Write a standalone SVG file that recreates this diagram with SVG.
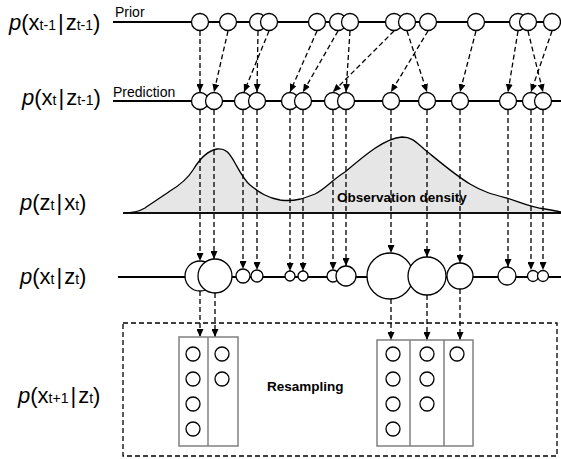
<svg xmlns="http://www.w3.org/2000/svg" width="561" height="459" viewBox="0 0 561 459">
<style>
.lbl{font-family:"Liberation Sans",Arial,sans-serif;font-size:22px;fill:#000}
.sub{font-size:14px}
.it{font-style:italic}
.small{font-family:"Liberation Sans",Arial,sans-serif;font-size:14px;fill:#000}
.bold{font-family:"Liberation Sans",Arial,sans-serif;font-size:13.5px;font-weight:bold;fill:#000}
.axis{stroke:#000;stroke-width:2;fill:none}
.pt{fill:#fff;stroke:#000;stroke-width:1.3}
.dash{stroke:#000;stroke-width:1.3;stroke-dasharray:5 3;fill:none}
.arr{marker-end:url(#ah)}
.box{fill:#fff;stroke:#808080;stroke-width:1.5}
</style>
<defs>
<marker id="ah" viewBox="0 0 8 7" refX="8" refY="3.5" markerWidth="8" markerHeight="7" markerUnits="userSpaceOnUse" orient="auto">
<path d="M0,0 L8,3.5 L0,7 z" fill="#000"/>
</marker>
</defs>

<g id="labels">
<text class="lbl" x="9" y="30"><tspan class="it">p</tspan>(x<tspan class="sub">t-1</tspan><tspan dx="2">|</tspan><tspan dx="2">z</tspan><tspan class="sub">t-1</tspan>)</text>
<text class="lbl" x="22" y="105"><tspan class="it">p</tspan>(x<tspan class="sub">t</tspan><tspan dx="2">|</tspan><tspan dx="2">z</tspan><tspan class="sub">t-1</tspan>)</text>
<text class="lbl" x="20" y="210"><tspan class="it">p</tspan>(z<tspan class="sub">t</tspan><tspan dx="2">|</tspan><tspan dx="2">x</tspan><tspan class="sub">t</tspan>)</text>
<text class="lbl" x="20" y="284"><tspan class="it">p</tspan>(x<tspan class="sub">t</tspan><tspan dx="2">|</tspan><tspan dx="2">z</tspan><tspan class="sub">t</tspan>)</text>
<text class="lbl" x="18" y="403"><tspan class="it">p</tspan>(x<tspan class="sub">t+1</tspan><tspan dx="2">|</tspan><tspan dx="2">z</tspan><tspan class="sub">t</tspan>)</text>
<text class="small" x="115" y="17">Prior</text>
<text class="small" x="113" y="97">Prediction</text>
</g>

<g id="density">
<path d="M123,213 C135,213 140,211 145,208 C152,203 160,198 170,191 C180,185 188,178 193,170 C199,160 206,151 217,149 C225,148 229,152 235,163 C240,172 244,180 250,185 C260,193 268,198 280,200 C295,202 305,198 315,194 C325,189 332,180 345,172 C365,155 385,138 402,137 C412,137 416,142 424,149 C440,162 455,175 470,184 C485,193 495,195 507,198 C520,202 530,207 545,209 C552,210 556,211 561,212 L561,213 Z" fill="#e6e6e6" stroke="#000" stroke-width="1.3"/>
<line x1="123" y1="213" x2="561" y2="213" stroke="#000" stroke-width="1.5"/>
<text class="bold" x="337" y="202">Observation density</text>
</g>

<g id="resample-frame">
<rect x="123" y="323" width="434" height="133" class="dash" stroke-dasharray="6 4"/>
<text class="bold" x="267" y="391">Resampling</text>
</g>

<g id="connectors">
<line class="dash arr" x1="200" y1="31" x2="200" y2="92"/>
<line class="dash arr" x1="228" y1="31" x2="214" y2="92"/>
<line class="dash arr" x1="258" y1="31" x2="257" y2="92"/>
<line class="dash arr" x1="269" y1="31" x2="244" y2="92"/>
<line class="dash arr" x1="317" y1="31" x2="290" y2="92"/>
<line class="dash arr" x1="338" y1="31" x2="303" y2="92"/>
<line class="dash arr" x1="350" y1="31" x2="346" y2="92"/>
<line class="dash arr" x1="394" y1="31" x2="333" y2="92"/>
<line class="dash arr" x1="407" y1="31" x2="427" y2="92"/>
<line class="dash arr" x1="428" y1="31" x2="391" y2="92"/>
<line class="dash arr" x1="476" y1="31" x2="460" y2="92"/>
<line class="dash arr" x1="518" y1="31" x2="508" y2="92"/>
<line class="dash arr" x1="528" y1="31" x2="543" y2="92"/>
<line class="dash arr" x1="552" y1="31" x2="531" y2="92"/>

<line class="dash arr" x1="200" y1="110" x2="200" y2="261"/>
<line class="dash arr" x1="214" y1="110" x2="214" y2="259"/>
<line class="dash arr" x1="243" y1="110" x2="243" y2="269"/>
<line class="dash arr" x1="257" y1="110" x2="257" y2="270"/>
<line class="dash arr" x1="290" y1="110" x2="290" y2="271"/>
<line class="dash arr" x1="303" y1="110" x2="303" y2="271"/>
<line class="dash arr" x1="333" y1="110" x2="333" y2="270"/>
<line class="dash arr" x1="346" y1="110" x2="346" y2="266"/>
<line class="dash arr" x1="391" y1="110" x2="391" y2="253"/>
<line class="dash arr" x1="427" y1="110" x2="427" y2="257"/>
<line class="dash arr" x1="460" y1="110" x2="460" y2="263"/>
<line class="dash arr" x1="508" y1="110" x2="508" y2="267"/>
<line class="dash arr" x1="531" y1="110" x2="531" y2="270"/>
<line class="dash arr" x1="543" y1="110" x2="543" y2="270"/>

<line class="dash arr" x1="200" y1="291" x2="200" y2="337"/>
<line class="dash arr" x1="215" y1="293" x2="215" y2="337"/>
<line class="dash arr" x1="391" y1="299" x2="391" y2="340"/>
<line class="dash arr" x1="427" y1="295" x2="427" y2="340"/>
<line class="dash arr" x1="460" y1="289" x2="460" y2="340"/>
</g>

<g id="prior">
<line class="axis" x1="113" y1="22" x2="561" y2="22"/>
<circle class="pt" cx="200" cy="22" r="8.5"/>
<circle class="pt" cx="228" cy="22" r="8.5"/>
<circle class="pt" cx="258" cy="22" r="8.5"/>
<circle class="pt" cx="269" cy="22" r="8.5"/>
<circle class="pt" cx="317" cy="22" r="8.5"/>
<circle class="pt" cx="338" cy="22" r="8.5"/>
<circle class="pt" cx="350" cy="22" r="8.5"/>
<circle class="pt" cx="394" cy="22" r="8.5"/>
<circle class="pt" cx="407" cy="22" r="8.5"/>
<circle class="pt" cx="428" cy="22" r="8.5"/>
<circle class="pt" cx="476" cy="22" r="8.5"/>
<circle class="pt" cx="518" cy="22" r="8.5"/>
<circle class="pt" cx="528" cy="22" r="8.5"/>
<circle class="pt" cx="552" cy="22" r="8.5"/>
</g>

<g id="prediction">
<line class="axis" x1="113" y1="101" x2="561" y2="101"/>
<circle class="pt" cx="200" cy="101" r="8.5"/>
<circle class="pt" cx="214" cy="101" r="8.5"/>
<circle class="pt" cx="243" cy="101" r="8.5"/>
<circle class="pt" cx="257" cy="101" r="8.5"/>
<circle class="pt" cx="290" cy="101" r="8.5"/>
<circle class="pt" cx="303" cy="101" r="8.5"/>
<circle class="pt" cx="333" cy="101" r="8.5"/>
<circle class="pt" cx="346" cy="101" r="8.5"/>
<circle class="pt" cx="391" cy="101" r="8.5"/>
<circle class="pt" cx="427" cy="101" r="8.5"/>
<circle class="pt" cx="460" cy="101" r="8.5"/>
<circle class="pt" cx="508" cy="101" r="8.5"/>
<circle class="pt" cx="531" cy="101" r="8.5"/>
<circle class="pt" cx="543" cy="101" r="8.5"/>
</g>

<g id="posterior">
<line class="axis" x1="118" y1="277" x2="561" y2="277"/>
<circle class="pt" cx="200" cy="276" r="15"/>
<circle class="pt" cx="215" cy="276" r="17"/>
<circle class="pt" cx="243" cy="276" r="7"/>
<circle class="pt" cx="257" cy="276" r="6"/>
<circle class="pt" cx="290" cy="276" r="5"/>
<circle class="pt" cx="303" cy="276" r="5"/>
<circle class="pt" cx="333" cy="276" r="6"/>
<circle class="pt" cx="346" cy="276" r="10"/>
<circle class="pt" cx="390" cy="276" r="23"/>
<circle class="pt" cx="427" cy="276" r="19"/>
<circle class="pt" cx="460" cy="276" r="13"/>
<circle class="pt" cx="507" cy="276" r="9"/>
<circle class="pt" cx="533" cy="276" r="5.5"/>
<circle class="pt" cx="543" cy="276" r="5.5"/>
</g>

<g id="box1">
<rect class="box" x="179" y="337" width="59" height="109"/>
<line x1="208" y1="337" x2="208" y2="446" stroke="#808080" stroke-width="1.5"/>
<circle class="pt" cx="193" cy="354" r="7"/>
<circle class="pt" cx="193" cy="379" r="7"/>
<circle class="pt" cx="193" cy="404" r="7"/>
<circle class="pt" cx="193" cy="429" r="7"/>
<circle class="pt" cx="222" cy="354" r="7"/>
<circle class="pt" cx="222" cy="379" r="7"/>
</g>

<g id="box2">
<rect class="box" x="377" y="340" width="96" height="106"/>
<line x1="410" y1="340" x2="410" y2="446" stroke="#808080" stroke-width="1.5"/>
<line x1="444" y1="340" x2="444" y2="446" stroke="#808080" stroke-width="1.5"/>
<circle class="pt" cx="393" cy="354" r="7"/>
<circle class="pt" cx="393" cy="379" r="7"/>
<circle class="pt" cx="393" cy="404" r="7"/>
<circle class="pt" cx="393" cy="429" r="7"/>
<circle class="pt" cx="427" cy="354" r="7"/>
<circle class="pt" cx="427" cy="379" r="7"/>
<circle class="pt" cx="427" cy="404" r="7"/>
<circle class="pt" cx="457" cy="354" r="7"/>
</g>
</svg>
